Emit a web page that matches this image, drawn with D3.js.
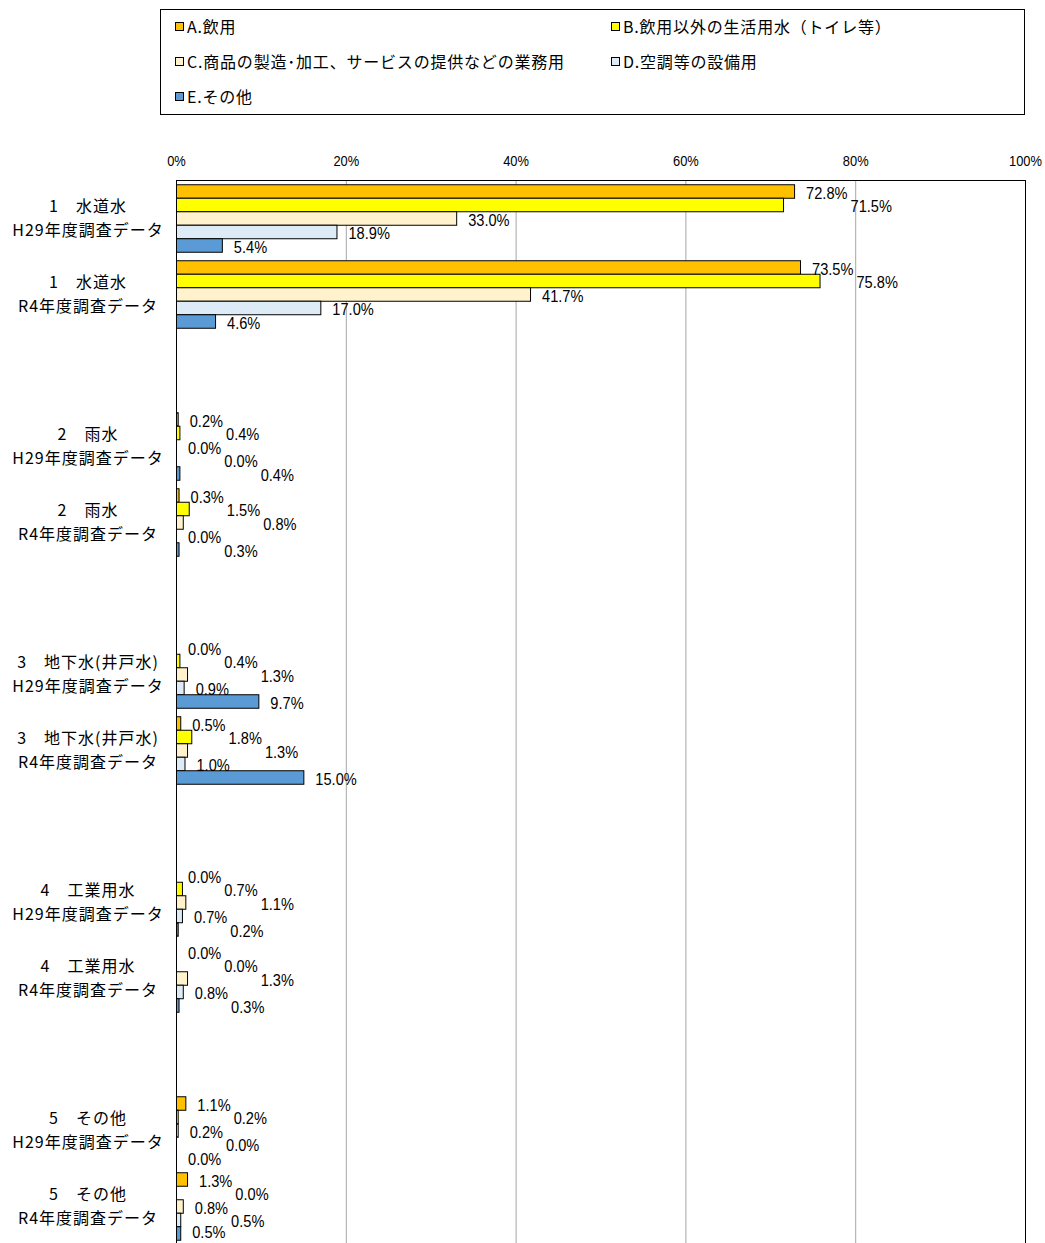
<!DOCTYPE html>
<html><head><meta charset="utf-8">
<script src="https://cdn.jsdelivr.net/npm/d3@7"></script>
<style>
html,body{margin:0;padding:0;background:#fff;}
svg{display:block;}
</style></head>
<body>
<script>
const categories = [
  ["1\u3000水道水", "H29年度調査データ"],
  ["1\u3000水道水", "R4年度調査データ"],
  ["2\u3000雨水", "H29年度調査データ"],
  ["2\u3000雨水", "R4年度調査データ"],
  ["3\u3000地下水(井戸水)", "H29年度調査データ"],
  ["3\u3000地下水(井戸水)", "R4年度調査データ"],
  ["4\u3000工業用水", "H29年度調査データ"],
  ["4\u3000工業用水", "R4年度調査データ"],
  ["5\u3000その他", "H29年度調査データ"],
  ["5\u3000その他", "R4年度調査データ"]
];
const seriesNames = [
  "A.飲用",
  "B.飲用以外の生活用水（トイレ等）",
  "C.商品の製造･加工、サービスの提供などの業務用",
  "D.空調等の設備用",
  "E.その他"
];
const seriesA = [72.8, 73.5, 0.2, 0.3, 0.0, 0.5, 0.0, 0.0, 1.1, 1.3];
const seriesB = [71.5, 75.8, 0.4, 1.5, 0.4, 1.8, 0.7, 0.0, 0.2, 0.0];
const seriesC = [33.0, 41.7, 0.0, 0.8, 1.3, 1.3, 1.1, 1.3, 0.2, 0.8];
const seriesD = [18.9, 17.0, 0.0, 0.0, 0.9, 1.0, 0.7, 0.8, 0.0, 0.5];
const seriesE = [5.4, 4.6, 0.4, 0.3, 9.7, 15.0, 0.2, 0.3, 0.0, 0.5];
const tickValues = [0, 20, 40, 60, 80, 100];
const colors = ["#FFC000", "#FFFF00", "#FFF2CC", "#DDEBF7", "#5B9BD5"];

const W = 1045, H = 1243;
const svg = d3.select("body").append("svg").attr("width", W).attr("height", H);
const NUMFONT = "'Liberation Sans',Arial,sans-serif";
const SX = 0.86; // horizontal condensing of numeric text

const allSeries = [seriesA, seriesB, seriesC, seriesD, seriesE];

// slots: two categories, then a spacer
const slots = [];
categories.forEach((c, i) => {
  slots.push("c" + i);
  if (i % 2 === 1 && i < categories.length - 1) slots.push("gap" + i);
});

const plotL = 176, plotR = 1025, plotT = 180;
const step = 76;
const plotB = plotT + step * slots.length;

const x = d3.scaleLinear().domain([0, 100]).range([plotL, plotR]);
const y0 = d3.scaleBand().domain(slots).range([plotT, plotB]);
const y1 = d3.scaleBand().domain(d3.range(5)).range([0, y0.bandwidth()]).paddingOuter(0.315);

// gridlines
svg.append("g").selectAll("line").data(tickValues.filter(t => t > 0 && t < 100)).join("line")
  .attr("x1", d => x(d) + 0.5).attr("x2", d => x(d) + 0.5)
  .attr("y1", plotT).attr("y2", plotB)
  .attr("stroke", "#a6a6a6").attr("stroke-width", 1);

// axis tick labels (condensed)
const axis = d3.axisTop(x).tickValues(tickValues).tickFormat(d => d + "%").tickSize(0).tickPadding(0);
const ag = svg.append("g").attr("transform", `translate(0,${plotT - 14})`).call(axis);
ag.select(".domain").remove();
ag.selectAll(".tick text").attr("font-family", NUMFONT)
  .attr("font-size", 15).attr("fill", "#000")
  .attr("transform", `scale(${SX},1)`).attr("x", 0);

// bars
const barG = svg.append("g");
categories.forEach((c, ci) => {
  const g = barG.append("g").attr("transform", `translate(0,${y0("c" + ci)})`);
  allSeries.forEach((s, si) => {
    g.append("rect")
      .attr("x", x(0) + 0.5)
      .attr("y", y1(si) + 0.5)
      .attr("width", Math.max(0, x(s[ci]) - x(0)))
      .attr("height", y1.bandwidth())
      .attr("fill", colors[si])
      .attr("stroke", s[ci] > 0 ? "#000" : "none")
      .attr("stroke-width", 1);
  });
});

// frame
svg.append("line").attr("x1", plotL).attr("x2", plotR + 1).attr("y1", plotT + 0.5).attr("y2", plotT + 0.5).attr("stroke", "#000");
svg.append("line").attr("x1", plotR + 0.5).attr("x2", plotR + 0.5).attr("y1", plotT).attr("y2", plotB).attr("stroke", "#000");
svg.append("line").attr("x1", plotL + 0.5).attr("x2", plotL + 0.5).attr("y1", plotT).attr("y2", plotB).attr("stroke", "#000");

// value labels with simple horizontal dodging
const FS = 17;
const labG = svg.append("g").attr("font-family", NUMFONT).attr("font-size", FS).attr("fill", "#000");
categories.forEach((c, ci) => {
  const placed = [];
  allSeries.forEach((s, si) => {
    const txt = s[ci].toFixed(1) + "%";
    let cy = y0("c" + ci) + y1(si) + y1.bandwidth() / 2 + 2;
    cy = Math.min(cy, H - FS * 0.62);
    const t = labG.append("text").attr("dy", "0.35em").text(txt);
    const bb = t.node().getBBox();
    const w = bb.width * SX;
    const top = cy + 0.35 * FS + bb.y, bot = top + bb.height;
    let lx = x(s[ci]) + 12;
    let moved = true;
    while (moved) {
      moved = false;
      for (const p of placed) {
        const vOverlap = top < p.bot - 2 && bot > p.top + 2;
        const hOverlap = lx < p.right && lx + w > p.left;
        if (vOverlap && hOverlap) { lx = p.right + 3; moved = true; }
      }
    }
    placed.push({ left: lx, right: lx + w, top, bot });
    t.attr("transform", `translate(${lx},${cy}) scale(${SX},1)`);
  });
});

// category labels
const catG = svg.append("g").attr("font-family", "'Noto Sans CJK JP',sans-serif").attr("font-size", 16)
  .attr("letter-spacing", 1).attr("fill", "#000").attr("text-anchor", "middle");
categories.forEach((c, ci) => {
  const cy = y0("c" + ci) + y0.bandwidth() / 2;
  catG.append("text").attr("x", 88).attr("y", cy - 12).attr("dy", "0.35em").text(c[0]);
  catG.append("text").attr("x", 88).attr("y", cy + 12).attr("dy", "0.35em").text(c[1]);
});

// legend
const leg = svg.append("g");
leg.append("rect").attr("x", 160.5).attr("y", 9.5).attr("width", 864).attr("height", 105)
  .attr("fill", "#fff").attr("stroke", "#000");
const legPos = [[175, 27], [611, 27], [175, 62], [611, 62], [175, 97]];
seriesNames.forEach((n, i) => {
  const [lx, ly] = legPos[i];
  leg.append("rect").attr("x", lx + 0.5).attr("y", ly - 4.5).attr("width", 8).attr("height", 8)
    .attr("fill", colors[i]).attr("stroke", "#000");
  leg.append("text").attr("x", lx + 12).attr("y", ly).attr("dy", "0.35em")
    .attr("font-family", "'Noto Sans CJK JP',sans-serif").attr("font-size", 16)
    .attr("letter-spacing", 0.8).text(n);
});
</script>
</body></html>
